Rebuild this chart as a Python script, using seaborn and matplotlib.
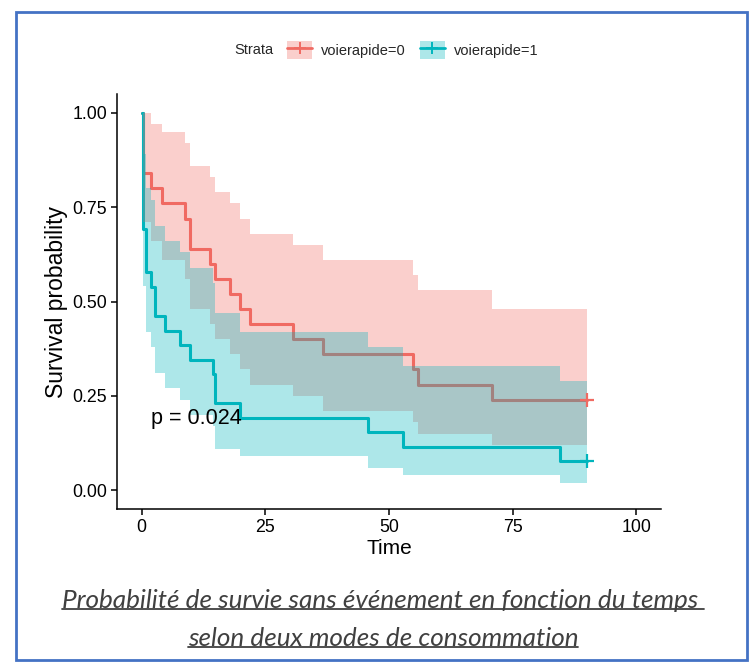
import numpy as np
import pandas as pd
import matplotlib
matplotlib.use("Agg")
import matplotlib.pyplot as plt
import seaborn as sns
from matplotlib.patches import Patch, Rectangle
from matplotlib.lines import Line2D
from matplotlib.legend_handler import HandlerTuple

# Kaplan-Meier steps
red_time = [0, 0.3, 1.9, 4.1, 8.8, 9.8, 13.8, 14.8, 17.9, 19.9, 21.9, 30.6, 36.7, 54.8, 55.9, 70.8, 90]
red_surv = [1.00, 0.84, 0.80, 0.76, 0.72, 0.64, 0.60, 0.56, 0.52, 0.48, 0.44, 0.40, 0.36, 0.32, 0.28, 0.24, 0.24]
red_upper = [1.00, 1.00, 0.97, 0.95, 0.92, 0.86, 0.83, 0.79, 0.76, 0.72, 0.68, 0.65, 0.61, 0.57, 0.53, 0.48, 0.48]
red_lower = [1.00, 0.71, 0.66, 0.61, 0.56, 0.48, 0.44, 0.40, 0.36, 0.32, 0.28, 0.25, 0.21, 0.18, 0.15, 0.12, 0.12]

teal_time = [0, 0.2, 0.8, 1.8, 2.7, 4.7, 7.8, 9.8, 14.4, 14.8, 19.9, 45.8, 52.8, 84.5, 90]
teal_surv = [1.00, 0.692, 0.577, 0.538, 0.462, 0.423, 0.385, 0.346, 0.308, 0.231, 0.192, 0.154, 0.115, 0.077, 0.077]
teal_upper = [1.00, 0.89, 0.80, 0.77, 0.70, 0.66, 0.63, 0.59, 0.55, 0.47, 0.42, 0.38, 0.33, 0.29, 0.29]
teal_lower = [1.00, 0.54, 0.42, 0.38, 0.31, 0.27, 0.24, 0.20, 0.17, 0.11, 0.09, 0.06, 0.04, 0.02, 0.02]

strata = ["voierapide=0", "voierapide=1"]
colors = ["#F06A62", "#00B5BD"]
pval = "p = 0.024"
caption1 = "Probabilité de survie sans événement en fonction du temps "
caption2 = "selon deux modes de consommation"

df = pd.concat([
    pd.DataFrame({"time": red_time, "surv": red_surv, "lower": red_lower, "upper": red_upper, "strata": strata[0]}),
    pd.DataFrame({"time": teal_time, "surv": teal_surv, "lower": teal_lower, "upper": teal_upper, "strata": strata[1]}),
])

sns.set_theme(style="ticks")
plt.rcParams['font.family'] = ['Liberation Sans', 'DejaVu Sans']

fig = plt.figure(figsize=(7.53, 6.66), dpi=100)
fig.patch.set_facecolor("white")
ax = fig.add_axes([0.1554, 0.2357, 0.7224, 0.6231])

sns.lineplot(data=df, x="time", y="surv", hue="strata", palette=colors, estimator=None,
             drawstyle="steps-post", linewidth=2.2, legend=False, ax=ax, zorder=1)

# confidence bands go on top of the lines, like ggsurvplot
for name, c in zip(strata, colors):
    g = df[df["strata"] == name]
    ax.fill_between(g["time"], g["lower"], g["upper"], step="post", color=c, alpha=0.32, lw=0, zorder=2)
    ax.plot(g["time"].iloc[-1], g["surv"].iloc[-1], marker="+", ms=10, mew=1.6, color=c, zorder=3)

ax.text(1.9, 0.19, pval, fontsize=15.5, va="center", ha="left", color="black")

ax.set_xlim(-5, 105)
ax.set_ylim(-0.05, 1.05)
ax.set_xticks([0, 25, 50, 75, 100])
ax.set_yticks([0, 0.25, 0.5, 0.75, 1.0])
ax.set_yticklabels(["0.00", "0.25", "0.50", "0.75", "1.00"])
ax.tick_params(length=4, width=1.1, color="black", labelsize=12.8, labelcolor="black", pad=3)
for s in ["left", "bottom"]:
    ax.spines[s].set_linewidth(1.1)
    ax.spines[s].set_color("black")
sns.despine(ax=ax)
ax.set_xlabel("Time", fontsize=15, color="black", labelpad=2)
ax.set_ylabel("Survival probability", fontsize=16.5, color="black", labelpad=3)
ax.set_facecolor("white")

# legend across the top
handles = [(Patch(facecolor=c, alpha=0.32, lw=0), Line2D([], [], color=c, lw=2, marker="+", ms=9, mew=1.4)) for c in colors]
fig.legend(handles=handles, labels=strata, ncol=2, loc="center", bbox_to_anchor=(0.548, 0.925),
           frameon=False, fontsize=10.5, handlelength=1.7, handleheight=1.6, handletextpad=0.6,
           columnspacing=1.0, handler_map={tuple: HandlerTuple(ndivide=1)})
fig.text(273 / 753, 0.925, "Strata", ha="right", va="center", fontsize=10.5)

# caption, underlined
cap_color = "#404040"
t1 = fig.text(0.5086, 1 - 601 / 666, caption1, ha="center", va="center", fontsize=18.8,
              style="italic", family=["Lato", "DejaVu Sans"], color=cap_color)
t2 = fig.text(0.5086, 1 - 639 / 666, caption2, ha="center", va="center", fontsize=18.8,
              style="italic", family=["Lato", "DejaVu Sans"], color=cap_color)
fig.canvas.draw()
r = fig.canvas.get_renderer()
for t in (t1, t2):
    bb = t.get_window_extent(renderer=r).transformed(fig.transFigure.inverted())
    fig.add_artist(Line2D([bb.x0, bb.x1], [bb.y0 + 0.005, bb.y0 + 0.005], color=cap_color, lw=1.3,
                          transform=fig.transFigure))

# blue frame
fig.add_artist(Rectangle((16 / 753, 1 - 660 / 666), (747 - 16) / 753, (660 - 12) / 666,
                         transform=fig.transFigure, fill=False, edgecolor="#4472C4", lw=2))

fig.savefig("out.png", dpi=100)
